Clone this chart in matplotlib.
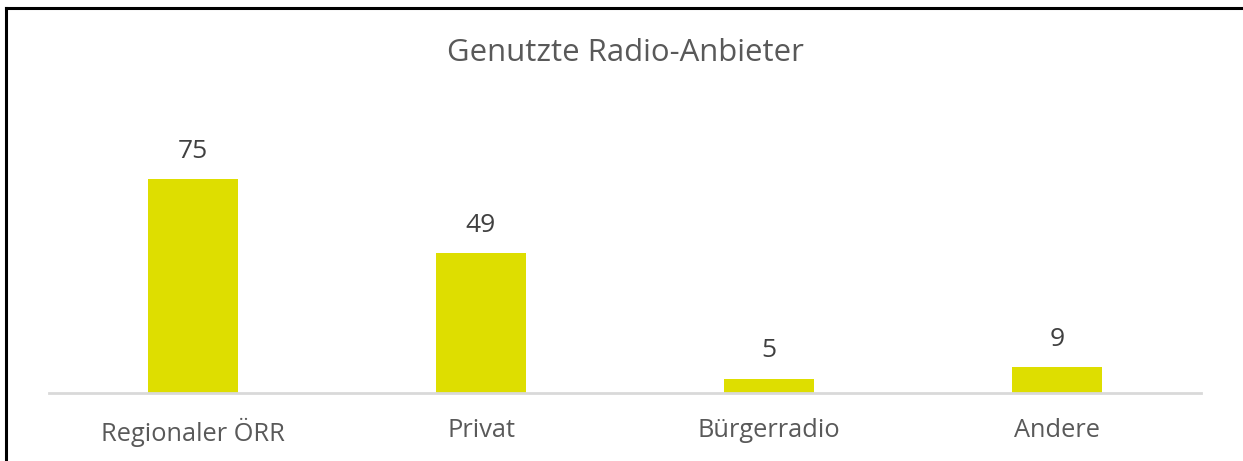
import matplotlib
matplotlib.use("Agg")
import matplotlib.pyplot as plt
from matplotlib.lines import Line2D

categories = ["Regionaler ÖRR", "Privat", "Bürgerradio", "Andere"]
values = [75, 49, 5, 9]
title = "Genutzte Radio-Anbieter"

plt.rcParams['font.family'] = ['Open Sans', 'DejaVu Sans']

W, H = 1243, 461
fig = plt.figure(figsize=(W / 100, H / 100), dpi=100)
ax = fig.add_axes([49 / W, (H - 393) / H, (1201 - 49) / W, (393 - 108) / H])

x = list(range(len(categories)))
bars = ax.bar(x, values, width=0.3125, color="#DEDE00", zorder=2)
ax.set_xlim(-0.5, len(categories) - 0.5)
ax.set_ylim(0, 100)

for xi, v in zip(x, values):
    ax.annotate(str(v), (xi, v), xytext=(0, 11), textcoords="offset points",
                ha="center", va="bottom", fontsize=19, color="#404040")

ax.set_xticks(x)
ax.set_xticklabels(categories, fontsize=18.3, color="#595959")
ax.tick_params(axis="x", length=0, pad=18)
ax.set_yticks([])
for s in ["top", "right", "left"]:
    ax.spines[s].set_visible(False)
ax.spines["bottom"].set_color("#D9D9D9")
ax.spines["bottom"].set_linewidth(2)

fig.text(625 / W, 1 - 53 / H, title, ha="center", va="center",
         fontsize=22.4, color="#595959")

# outer frame (top and left only)
fig.add_artist(Line2D([6 / W, 1], [1 - 8 / H, 1 - 8 / H], color="black", lw=2.2,
                      transform=fig.transFigure))
fig.add_artist(Line2D([6 / W, 6 / W], [0, 1 - 8 / H], color="black", lw=2.2,
                      transform=fig.transFigure))

fig.savefig("out.png", dpi=100, facecolor="white")
